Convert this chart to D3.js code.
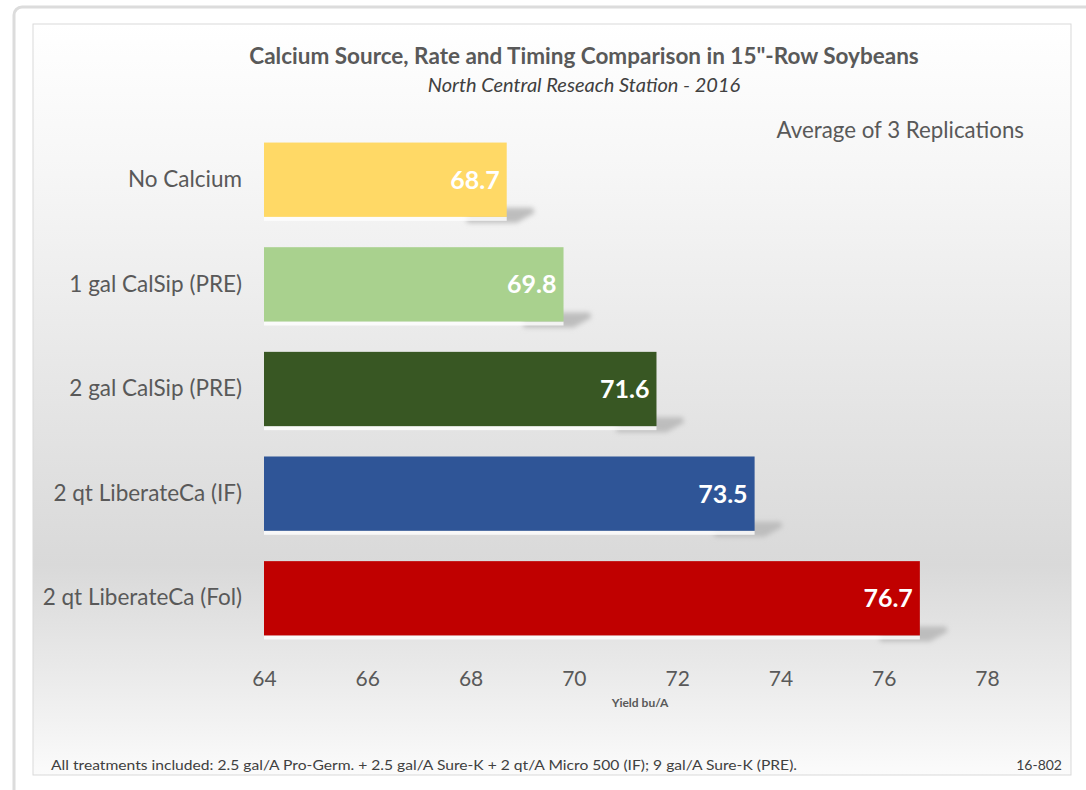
<!DOCTYPE html>
<html>
<head>
<meta charset="utf-8">
<script src="https://cdn.jsdelivr.net/npm/d3@7"></script>
<style>
  body { margin: 0; background: #fff; }
  svg { display: block; }
</style>
</head>
<body>
<div id="entry"></div>
<script>
const categories = ["No Calcium", "1 gal CalSip (PRE)", "2 gal CalSip (PRE)", "2 qt LiberateCa (IF)", "2 qt LiberateCa (Fol)"];
const yields = [68.7, 69.8, 71.6, 73.5, 76.7];
const barColors = ["#FFD966", "#A9D18E", "#385723", "#2F5597", "#C00000"];
const xTicks = [64, 66, 68, 70, 72, 74, 76, 78];

const W = 1086, H = 790;
const font = "Lato, 'Open Sans', sans-serif";

const svg = d3.select('#entry').append('svg')
    .attr('width', W)
    .attr('height', H);

const defs = svg.append('defs');
const grad = defs.append('linearGradient')
    .attr('id', 'bg')
    .attr('x1', 0).attr('y1', 0).attr('x2', 0).attr('y2', 1);
[["0%", "#ffffff"], ["20%", "#f6f6f6"], ["72%", "#d9d9d9"], ["88%", "#ececec"], ["100%", "#fbfbfb"]]
    .forEach(s => grad.append('stop').attr('offset', s[0]).attr('stop-color', s[1]));

const blur = defs.append('filter').attr('id', 'blur')
    .attr('x', '-20%').attr('y', '-50%').attr('width', '140%').attr('height', '200%');
blur.append('feGaussianBlur').attr('stdDeviation', 2.5);

// outer frame
svg.append('rect')
    .attr('x', 14).attr('y', 7)
    .attr('width', 1120).attr('height', 820)
    .attr('rx', 8)
    .attr('fill', '#ffffff')
    .attr('stroke', '#dcdcdc')
    .attr('stroke-width', 3);

// chart area
svg.append('rect')
    .attr('x', 33).attr('y', 24)
    .attr('width', 1038).attr('height', 751)
    .attr('fill', 'url(#bg)')
    .attr('stroke', '#d9d9d9')
    .attr('stroke-width', 1);

const x = d3.scaleLinear().domain([64, 78]).range([264, 987]);
const y = d3.scaleBand().domain(categories).range([130, 648]).paddingInner(0.29).paddingOuter(0.12);

// shadows
svg.append('g').selectAll('path')
    .data(categories)
    .enter()
    .append('path')
    .attr('d', (d, i) => {
        const xe = x(yields[i]), yb = y(d) + y.bandwidth();
        return `M ${xe - 40} ${yb - 9} L ${xe + 26} ${yb - 9} L ${xe + 28} ${yb - 4} L ${xe + 10} ${yb + 6} L ${xe - 40} ${yb + 6} Z`;
    })
    .attr('fill', '#bdbdbd')
    .attr('filter', 'url(#blur)');

// reflection strip under bars
svg.append('g').selectAll('rect')
    .data(categories)
    .enter()
    .append('rect')
    .attr('x', x(64))
    .attr('y', d => y(d) + y.bandwidth())
    .attr('width', (d, i) => x(yields[i]) - x(64))
    .attr('height', 4)
    .attr('fill', '#ffffff')
    .attr('opacity', 0.8);

svg.append('g').selectAll('rect')
    .data(categories)
    .enter()
    .append('rect')
    .attr('x', x(64))
    .attr('y', d => y(d))
    .attr('width', (d, i) => x(yields[i]) - x(64))
    .attr('height', y.bandwidth())
    .attr('fill', (d, i) => barColors[i]);

// value labels
svg.append('g').selectAll('text')
    .data(categories)
    .enter()
    .append('text')
    .attr('x', (d, i) => x(yields[i]) - 7)
    .attr('y', d => y(d) + y.bandwidth() / 2 + 9)
    .attr('text-anchor', 'end')
    .attr('font-family', font)
    .attr('font-weight', 'bold')
    .attr('font-size', '25px')
    .attr('fill', '#ffffff')
    .text((d, i) => yields[i].toFixed(1));

// category axis
const yAxis = svg.append('g')
    .attr('transform', `translate(${x(64)},0)`)
    .call(d3.axisLeft(y).tickSize(0).tickPadding(22));
yAxis.select('.domain').remove();
yAxis.selectAll('text')
    .attr('font-family', font)
    .attr('font-size', '22.5px')
    .attr('fill', '#595959');

// value axis
const xAxis = svg.append('g')
    .attr('transform', 'translate(0,661)')
    .call(d3.axisBottom(x).tickValues(xTicks).tickSize(0).tickPadding(10));
xAxis.select('.domain').remove();
xAxis.selectAll('text')
    .attr('font-family', font)
    .attr('font-size', '21px')
    .attr('fill', '#595959');

svg.append('text')
    .attr('x', 640).attr('y', 707)
    .attr('text-anchor', 'middle')
    .attr('font-family', font)
    .attr('font-weight', 'bold')
    .attr('font-size', '12px')
    .attr('fill', '#595959')
    .text('Yield bu/A');

// titles
svg.append('text')
    .attr('x', 584).attr('y', 64)
    .attr('text-anchor', 'middle')
    .attr('font-family', font)
    .attr('font-weight', 'bold')
    .attr('font-size', '22.5px')
    .attr('fill', '#595959')
    .text('Calcium Source, Rate and Timing Comparison in 15"-Row Soybeans');

svg.append('text')
    .attr('x', 584).attr('y', 92)
    .attr('text-anchor', 'middle')
    .attr('font-family', font)
    .attr('font-style', 'italic')
    .attr('font-size', '20px')
    .attr('fill', '#404040')
    .text('North Central Reseach Station - 2016');

svg.append('text')
    .attr('x', 1024).attr('y', 138)
    .attr('text-anchor', 'end')
    .attr('font-family', font)
    .attr('font-size', '22.3px')
    .attr('fill', '#595959')
    .text('Average of 3 Replications');

// footnotes
svg.append('text')
    .attr('x', 51).attr('y', 770)
    .attr('font-family', font)
    .attr('font-size', '14px')
    .attr('textLength', 746)
    .attr('lengthAdjust', 'spacingAndGlyphs')
    .attr('fill', '#404040')
    .text('All treatments included: 2.5 gal/A Pro-Germ. + 2.5 gal/A Sure-K + 2 qt/A Micro 500 (IF); 9 gal/A Sure-K (PRE).');

svg.append('text')
    .attr('x', 1062).attr('y', 770)
    .attr('text-anchor', 'end')
    .attr('font-family', font)
    .attr('font-size', '14px')
    .attr('fill', '#404040')
    .text('16-802');
</script>
</body>
</html>
